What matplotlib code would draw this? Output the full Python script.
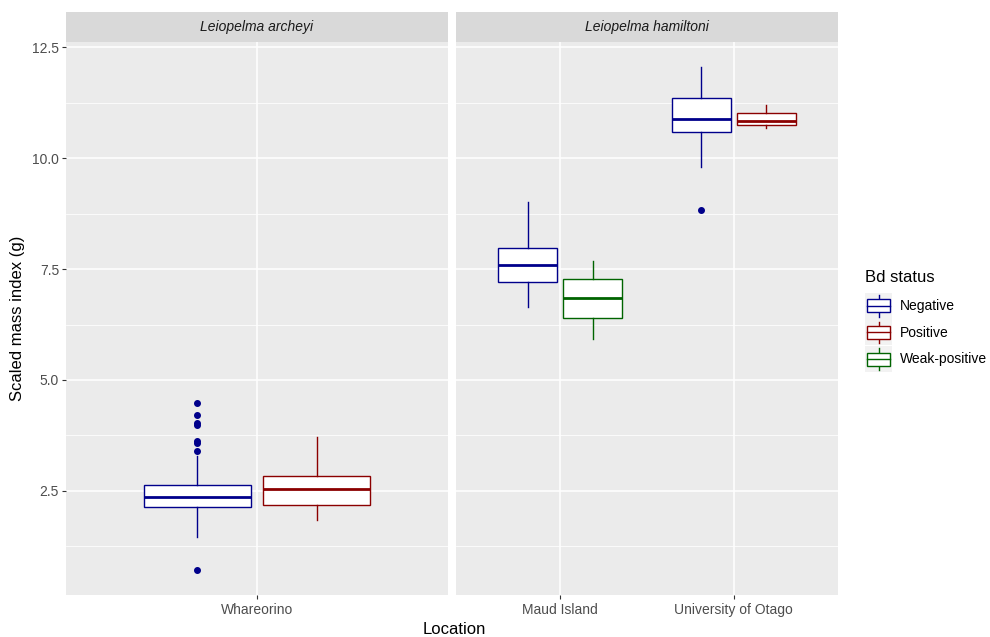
import matplotlib
matplotlib.use("Agg")
import matplotlib.pyplot as plt
from matplotlib.patches import Rectangle
from matplotlib.lines import Line2D

plt.rcParams['font.family'] = ['Liberation Sans', 'DejaVu Sans']

# ---- data ----
species = ["Leiopelma archeyi", "Leiopelma hamiltoni"]
locations_archeyi = ["Whareorino"]
locations_hamiltoni = ["Maud Island", "University of Otago"]
statuses = ["Negative", "Positive", "Weak-positive"]
status_colors = {"Negative": "#00008B", "Positive": "#8B0000", "Weak-positive": "#006400"}

# boxes: panel, location index (1-based), status, dodge slot, whislo, q1, med, q3, whishi, fliers
box_panel = [0, 0, 1, 1, 1, 1]
box_loc = [1, 1, 1, 1, 2, 2]
box_status = ["Negative", "Positive", "Negative", "Weak-positive", "Negative", "Positive"]
box_slot = [0, 1, 0, 1, 0, 1]
whislo = [1.45, 1.84, 6.65, 5.93, 9.81, 10.69]
q1 = [2.14, 2.18, 7.20, 6.39, 10.59, 10.74]
med = [2.36, 2.545, 7.60, 6.85, 10.89, 10.84]
q3 = [2.63, 2.84, 7.985, 7.28, 11.35, 11.01]
whishi = [3.29, 3.71, 9.02, 7.68, 12.06, 11.20]
fliers = [[4.47, 4.22, 4.04, 3.99, 3.63, 3.58, 3.39, 0.72], [], [], [], [8.83], []]

y_ticks = [2.5, 5.0, 7.5, 10.0, 12.5]
y_minor = [1.25, 3.75, 6.25, 8.75, 11.25]

# ---- layout ----
W, H = 990, 637
fig = plt.figure(figsize=(W / 100, H / 100), dpi=100)

def rect(x0, y0, x1, y1):
    return [x0 / W, 1 - y1 / H, (x1 - x0) / W, (y1 - y0) / H]

panel_x = [(66, 448), (456, 838)]
ptop, pbot, stop = 41.5, 595, 12
axes = []
panel_locs = [locations_archeyi, locations_hamiltoni]
BG = "#EBEBEB"
for i, (x0, x1) in enumerate(panel_x):
    ax = fig.add_axes(rect(x0, ptop, x1, pbot))
    ax.set_facecolor(BG)
    for s in ax.spines.values():
        s.set_visible(False)
    n = len(panel_locs[i])
    ax.set_xlim(0.4, n + 0.6)
    ax.set_ylim(0.153, 12.63)
    for y in y_minor:
        ax.axhline(y, color="white", lw=0.55, zorder=0)
    for y in y_ticks:
        ax.axhline(y, color="white", lw=1.1, zorder=0)
    for k in range(1, n + 1):
        ax.axvline(k, color="white", lw=1.1, zorder=0)
    ax.set_xticks(range(1, n + 1))
    ax.set_xticklabels(panel_locs[i], fontsize=10, color="#4D4D4D")
    ax.tick_params(axis="x", length=3, width=0.8, color="#333333", pad=3)
    ax.set_yticks(y_ticks)
    if i == 0:
        ax.set_yticklabels(["%.1f" % v for v in y_ticks], fontsize=10, color="#4D4D4D")
        ax.tick_params(axis="y", length=3, width=0.8, color="#333333", pad=2)
    else:
        ax.tick_params(axis="y", length=0, labelleft=False)
    axes.append(ax)
    # strip
    sax = fig.add_axes(rect(x0, stop, x1, ptop))
    sax.set_facecolor("#D9D9D9")
    for s in sax.spines.values():
        s.set_visible(False)
    sax.set_xticks([]); sax.set_yticks([])
    sax.text(0.5, 0.5, species[i], ha="center", va="center", fontsize=10,
             style="italic", color="#1A1A1A", transform=sax.transAxes)

box_w = 0.3375
offset = 0.1875
for j in range(len(med)):
    ax = axes[box_panel[j]]
    col = status_colors[box_status[j]]
    pos = box_loc[j] + (-offset if box_slot[j] == 0 else offset)
    stats = [dict(whislo=whislo[j], q1=q1[j], med=med[j], q3=q3[j], whishi=whishi[j],
                  fliers=fliers[j])]
    ax.bxp(stats, positions=[pos], widths=box_w, patch_artist=True, showcaps=False,
           boxprops=dict(facecolor="white", edgecolor=col, linewidth=1.0),
           whiskerprops=dict(color=col, linewidth=1.0),
           medianprops=dict(color=col, linewidth=2.0, solid_capstyle="butt"),
           flierprops=dict(marker="o", markerfacecolor=col, markeredgecolor=col,
                           markersize=4, linestyle="none"),
           manage_ticks=False)

# axis titles
fig.text(18 / W, 1 - 318 / H, "Scaled mass index (g)", rotation=90, ha="center",
         va="center", fontsize=12, color="black")
fig.text(454 / W, 1 - 630 / H, "Location", ha="center", va="center", fontsize=12,
         color="black")

# legend
fig.text(865 / W, 1 - 277 / H, "Bd status", ha="left", va="center", fontsize=12, color="black")
key_top = 293
key_h = 26.5
for k, st in enumerate(statuses):
    y0 = key_top + k * key_h
    kax = fig.add_axes(rect(865, y0, 892, y0 + key_h - 0.5))
    kax.set_xlim(0, 1); kax.set_ylim(0, 1)
    kax.set_facecolor("#F2F2F2")
    for s in kax.spines.values():
        s.set_visible(False)
    kax.set_xticks([]); kax.set_yticks([])
    col = status_colors[st]
    kax.add_line(Line2D([0.5, 0.5], [0.08, 0.92], color=col, lw=1.0, zorder=1))
    kax.add_patch(Rectangle((0.08, 0.25), 0.84, 0.5, facecolor="white", edgecolor=col,
                            lw=1.0, zorder=2))
    kax.add_line(Line2D([0.08, 0.92], [0.5, 0.5], color=col, lw=1.0, zorder=3))
    fig.text(900 / W, 1 - (y0 + key_h / 2) / H, st, ha="left", va="center", fontsize=10,
             color="black")

fig.savefig("out.png", dpi=100)
